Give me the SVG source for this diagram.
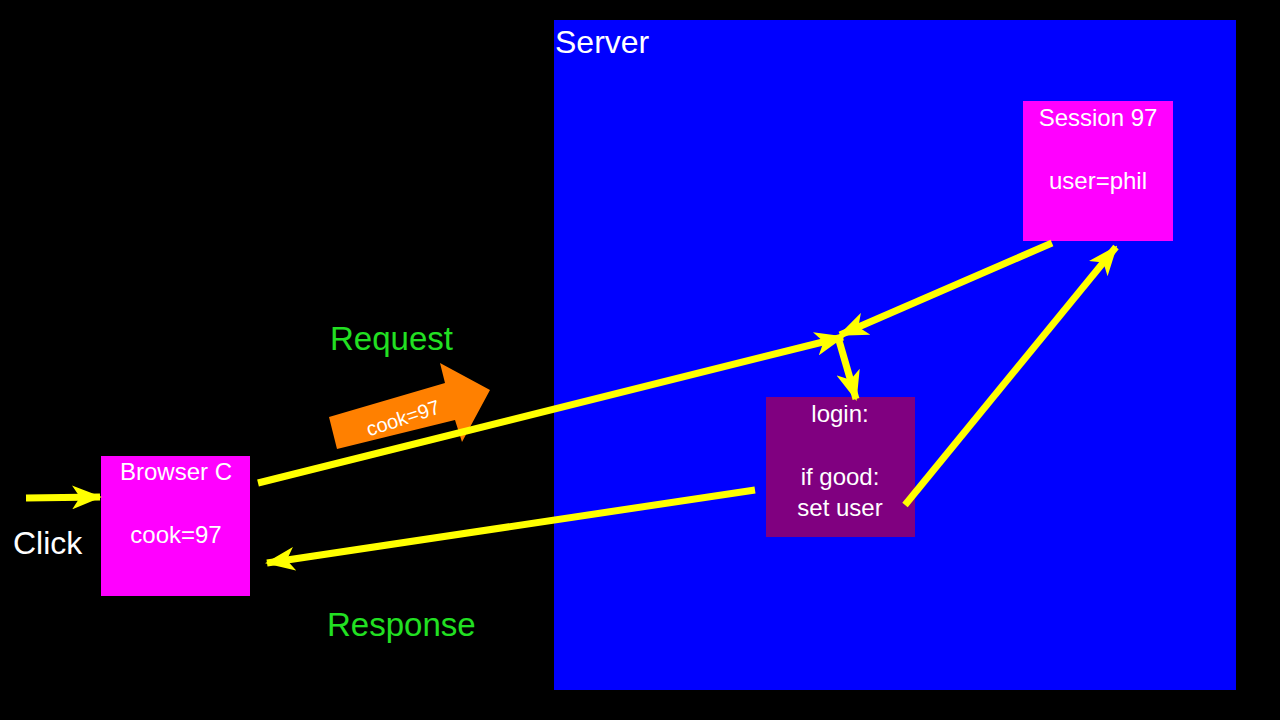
<svg xmlns="http://www.w3.org/2000/svg" width="1280" height="720" viewBox="0 0 1280 720">
<defs>
<style>
text{font-family:"Liberation Sans",Arial,sans-serif}
.w{fill:#fff;font-size:24px}
.g{fill:#22e022;font-size:33px}
.c{stroke:#ffff00;stroke-width:7;fill:none;marker-end:url(#ah)}
</style>
<marker id="ah" markerUnits="userSpaceOnUse" viewBox="0 0 30 24" refX="28" refY="12" markerWidth="30" markerHeight="24" orient="auto">
<path d="M0,0 L30,12 L0,24 L8,12 Z" fill="#ffff00"/>
</marker>
</defs>
<rect width="1280" height="720" fill="#000"/>
<g id="server"><rect x="554" y="20" width="682" height="670" fill="#0000ff"/>
<text x="555" y="53" class="w" font-size="32" style="font-size:32px">Server</text></g>
<g id="session"><rect x="1023" y="101" width="150" height="140" fill="#ff00ff"/>
<text x="1098" y="126" class="w" text-anchor="middle">Session 97</text>
<text x="1098" y="189" class="w" text-anchor="middle">user=phil</text></g>
<g id="login"><rect x="766" y="397" width="149" height="140" fill="#800080"/>
<text x="840" y="422" class="w" text-anchor="middle">login:</text>
<text x="840" y="485" class="w" text-anchor="middle">if good:</text>
<text x="840" y="516" class="w" text-anchor="middle">set user</text></g>
<g id="browser"><rect x="101" y="456" width="149" height="140" fill="#ff00ff"/>
<text x="176" y="480" class="w" text-anchor="middle">Browser C</text>
<text x="176" y="543" class="w" text-anchor="middle">cook=97</text></g>
<g id="labels">
<text x="13" y="554" class="w" style="font-size:32px">Click</text>
<text x="330" y="350" class="g">Request</text>
<text x="327" y="636" class="g">Response</text>
</g>
<g id="cookie"><polygon points="329,417 445,383 440,363 490,390 462,442 455,420 337,449" fill="#ff8000"/>
<text x="403" y="425" fill="#fff" font-size="20" text-anchor="middle" transform="rotate(-18 403 418)">cook=97</text></g>
<g id="connectors">
<line x1="26" y1="498" x2="100" y2="497" class="c"/>
<line x1="258" y1="483" x2="843" y2="337" class="c"/>
<line x1="1052" y1="243" x2="840" y2="335" class="c"/>
<line x1="838" y1="337" x2="856" y2="399" class="c"/>
<line x1="905" y1="505" x2="1116" y2="247" class="c"/>
<line x1="755" y1="490" x2="267" y2="563" class="c"/>
</g>
</svg>
